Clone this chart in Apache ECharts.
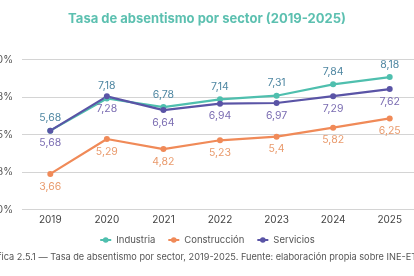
<!DOCTYPE html>
<html>
  <head>
    <meta charset="utf-8" />
    <title>Tasa de absentismo</title>
    <script src="https://cdn.jsdelivr.net/npm/echarts@6/dist/echarts.min.js"></script>
    <style>
      html, body { margin: 0; padding: 0; background: #fff; }
    </style>
  </head>
  <body>
    <div id="main" style="width: 414px;height:276px;"></div>
    <script type="text/javascript">
      // datos
      var years = ['2019', '2020', '2021', '2022', '2023', '2024', '2025'];
      var industria = [5.68, 7.18, 6.78, 7.14, 7.31, 7.84, 8.18];
      var construccion = [3.66, 5.29, 4.82, 5.23, 5.4, 5.82, 6.25];
      var servicios = [5.68, 7.28, 6.64, 6.94, 6.97, 7.29, 7.62];

      var fmt = function (v) {
        return String(v).replace('.', ',');
      };

      var myChart = echarts.init(document.getElementById('main'));

      function serie(name, data, color, labelColor, pos) {
        return {
          name: name,
          type: 'line',
          data: data,
          symbol: 'circle',
          symbolSize: 6,
          lineStyle: { width: 2.2, color: color },
          itemStyle: { color: color },
          label: {
            show: true,
            position: pos,
            distance: 4,
            color: labelColor,
            fontSize: 10.5,
            fontFamily: 'Inter',
            formatter: function (p) { return fmt(p.value); }
          }
        };
      }

      var option = {
        animation: false,
        title: {
          text: 'Tasa de absentismo por sector (2019-2025)',
          left: 'center',
          top: 8,
          textStyle: { color: '#5cc0b0', fontSize: 13, fontWeight: 'bold', fontFamily: 'Inter' }
        },
        legend: {
          top: 230,
          left: 'center',
          itemWidth: 11,
          itemHeight: 7,
          itemGap: 12,
          textStyle: { color: '#555', fontSize: 9.5, fontFamily: 'Inter' },
          data: ['Industria', 'Construcción', 'Servicios']
        },
        graphic: [{
          type: 'text',
          left: 'center',
          top: 253,
          style: {
            text: 'Gráfica 2.5.1 — Tasa de absentismo por sector, 2019-2025. Fuente: elaboración propia sobre INE-ETCL.',
            fill: '#555',
            fontSize: 9.2,
            fontFamily: 'Inter'
          }
        }],
        grid: { left: 22, top: 59.5, width: 396, height: 150, outerBoundsMode: 'none', containLabel: false },
        xAxis: {
          type: 'category',
          data: years,
          axisLine: { show: false },
          axisTick: { show: false },
          axisLabel: { color: '#444', fontSize: 10, fontFamily: 'Inter', margin: 5 }
        },
        yAxis: {
          type: 'value',
          min: 2,
          max: 9,
          interval: 1.75,
          axisLabel: {
            color: '#555',
            fontSize: 10,
            fontFamily: 'Inter',
            margin: 9,
            formatter: function (v) { return v.toFixed(1).replace('.', ',') + '%'; }
          },
          splitLine: { lineStyle: { color: '#d4d4d4', width: 1.2 } }
        },
        series: [
          serie('Industria', industria, '#4fbfae', '#4f87a2', 'top'),
          serie('Construcción', construccion, '#f08a58', '#e99a6c', 'bottom'),
          serie('Servicios', servicios, '#5a54a6', '#7b6db2', 'bottom')
        ]
      };
      myChart.setOption(option);
    </script>
  </body>
</html>
